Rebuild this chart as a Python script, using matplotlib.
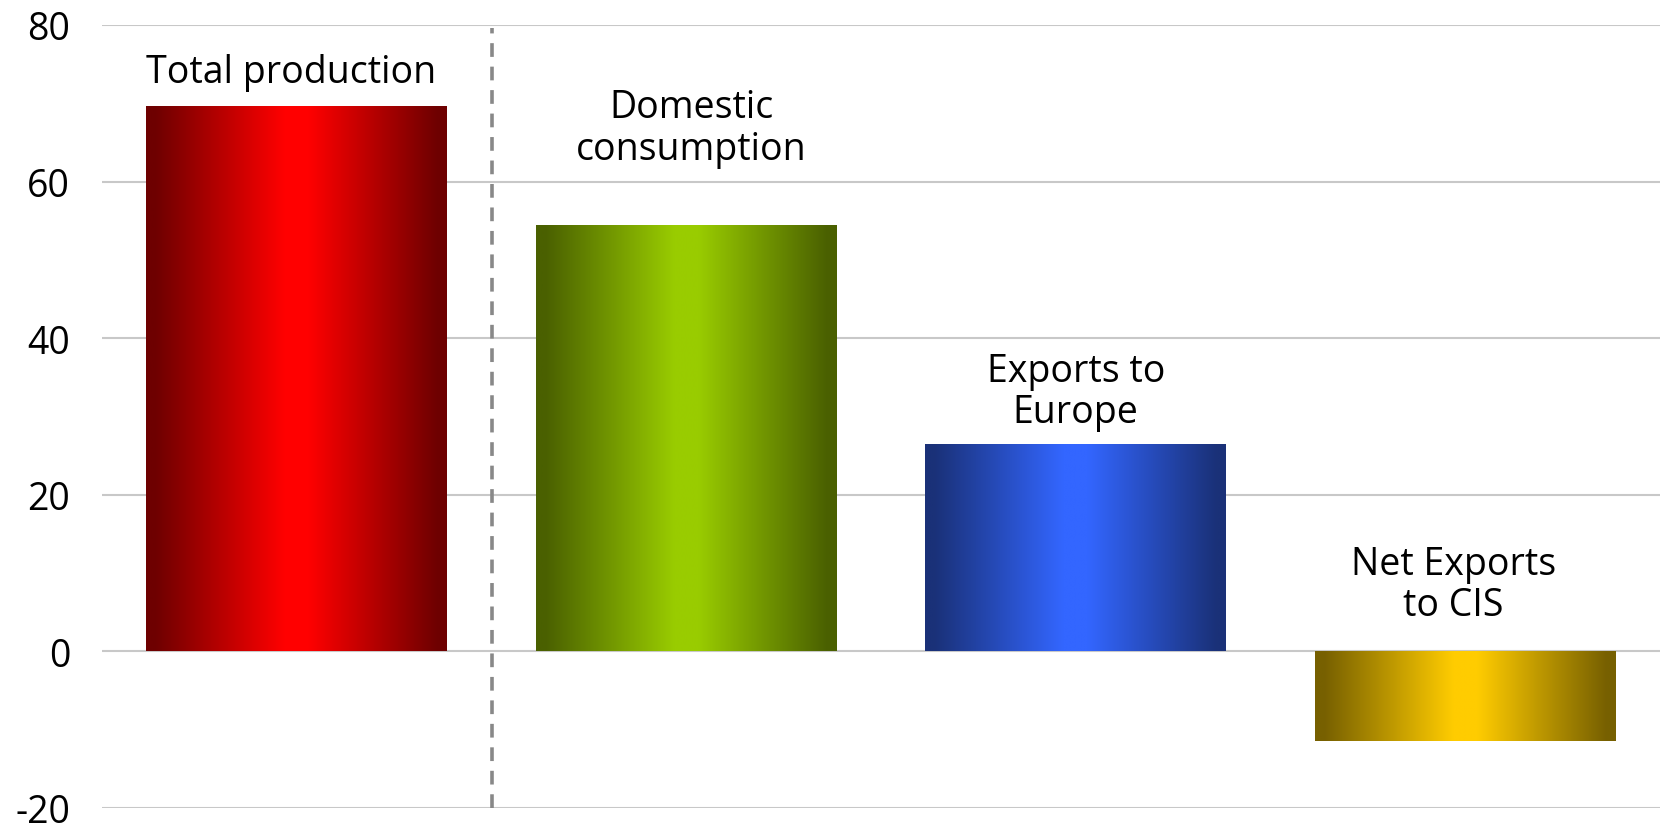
import numpy as np
import matplotlib
matplotlib.use("Agg")
import matplotlib.pyplot as plt
from matplotlib.colors import to_rgb

# ---- data ----
categories = ["Total production", "Domestic\nconsumption", "Exports to\nEurope", "Net Exports\nto CIS"]
values = [69.7, 54.4, 26.5, -11.5]
yticks = [-20, 0, 20, 40, 60, 80]

# ---- style ----
edge_colors = ["#6e0000", "#4a6000", "#1a3178", "#776000"]
center_colors = ["#ff0000", "#99cc00", "#3366ff", "#ffcc00"]
label_y = [72.7, 62.9, 29.3, 4.6]   # baseline of last label line (data units)
label_dx = [-0.015, 0.013, 0.0, -0.03]

plt.rcParams["font.family"] = ["Open Sans", "DejaVu Sans"]

fig = plt.figure(figsize=(16.6, 8.28), dpi=100)
ax = fig.add_axes([102 / 1660, 1 - 809 / 828, (1660 - 102) / 1660, (809 - 26) / 828])

x = np.arange(len(categories))
bars = ax.bar(x, values, width=0.772, color="none", edgecolor="none", zorder=3)

# gradient profile: dark edges, bright center
stops = np.array([0.0, 0.03, 0.46, 0.54, 0.97, 1.0])
mix = np.array([0.0, 0.0, 1.0, 1.0, 0.0, 0.0])
t = np.linspace(0, 1, 400)
w = np.interp(t, stops, mix)

for bar, ec, cc in zip(bars, edge_colors, center_colors):
    e = np.array(to_rgb(ec)); c = np.array(to_rgb(cc))
    img = (e[None, :] * (1 - w[:, None]) + c[None, :] * w[:, None])[None, :, :]
    x0 = bar.get_x(); x1 = x0 + bar.get_width()
    y0 = bar.get_y(); y1 = y0 + bar.get_height()
    im = ax.imshow(img, extent=(x0, x1, min(y0, y1), max(y0, y1)), aspect="auto",
                   interpolation="bilinear", zorder=3, origin="lower")
    im.set_clip_path(bar)

# divider
ax.axvline(0.5, ymin=0, ymax=0.996, color="#888888", lw=2.6, dashes=(3.8, 2.7), zorder=4)

for xi, lab, ly, dx in zip(x, categories, label_y, label_dx):
    ax.text(xi + dx, ly, lab, ha="center", va="baseline", multialignment="center",
            fontsize=27, color="black", linespacing=1.12, zorder=5)

ax.set_xlim(-0.5, 3.5)
ax.set_ylim(-20, 80)
ax.set_yticks(yticks)
ax.set_yticklabels([str(v) for v in yticks])
ax.set_xticks([])
ax.tick_params(axis="y", length=0, pad=23, labelsize=27)
ax.grid(axis="y", color="#c8c8c8", lw=1.5, zorder=0)
ax.set_axisbelow(True)
for s in ax.spines.values():
    s.set_visible(False)

fig.savefig("out.png", dpi=100, facecolor="white")
